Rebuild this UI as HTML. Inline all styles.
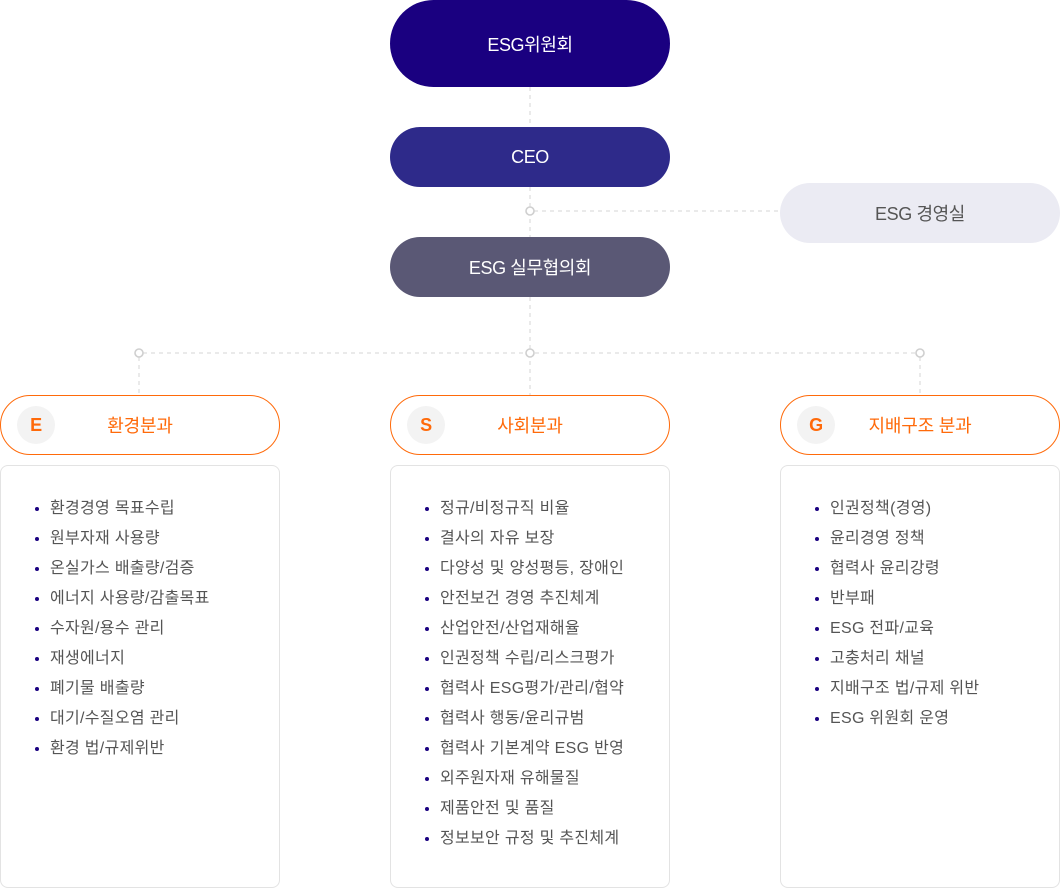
<!DOCTYPE html>
<html><head><meta charset="utf-8"><style>
*{margin:0;padding:0;box-sizing:border-box}
body{width:1060px;height:889px;background:#fff;position:relative;overflow:hidden;font-family:"Liberation Sans","Noto Sans CJK KR",sans-serif}
.pill{position:absolute;display:flex;align-items:center;justify-content:center;color:#fff;font-size:18px;letter-spacing:-0.4px}
.div{position:absolute;top:395px;width:280px;height:60px;border:1px solid #ff6a0a;border-radius:30px;color:#ff6a0a;font-size:18px;display:flex;align-items:center;justify-content:center;letter-spacing:-0.2px}
.badge{position:absolute;left:16px;top:10px;width:38px;height:38px;border-radius:50%;background:#f3f3f3;color:#ff6a0a;font-weight:bold;font-size:18px;display:flex;align-items:center;justify-content:center;font-family:"Liberation Sans",sans-serif}
.box{position:absolute;top:465px;width:280px;height:423px;border:1px solid #e3e3e3;border-radius:8px}
.box ul{list-style:none;position:absolute;left:0;top:31px}
.box li{position:relative;height:30px;line-height:24px;padding-left:49px;font-size:16px;color:#555;letter-spacing:0.3px;white-space:nowrap}
.box li:before{content:"";position:absolute;left:34px;top:10px;width:4px;height:4px;border-radius:50%;background:#1a0080}
</style></head><body>
<svg width="1060" height="889" style="position:absolute;left:0;top:0">
<g stroke="#d4d4d4" stroke-width="1" stroke-dasharray="4,4" fill="none">
<line x1="530" y1="87" x2="530" y2="127"/>
<line x1="530" y1="187" x2="530" y2="237"/>
<line x1="534" y1="211" x2="780" y2="211"/>
<line x1="530" y1="297" x2="530" y2="395"/>
<line x1="143" y1="353" x2="916" y2="353"/>
<line x1="139" y1="357" x2="139" y2="395"/>
<line x1="920" y1="357" x2="920" y2="395"/>
</g>
<g stroke="#cfcfcf" stroke-width="1.6" fill="#fff">
<circle cx="530" cy="211" r="4"/>
<circle cx="139" cy="353" r="4"/>
<circle cx="530" cy="353" r="4"/>
<circle cx="920" cy="353" r="4"/>
</g>
</svg>
<div class="pill" style="left:390px;top:0;width:280px;height:87px;border-radius:44px;background:#1a0080">ESG위원회</div>
<div class="pill" style="left:390px;top:127px;width:280px;height:60px;border-radius:30px;background:#2e2a8a">CEO</div>
<div class="pill" style="left:390px;top:237px;width:280px;height:60px;border-radius:30px;background:#5a5875">ESG 실무협의회</div>
<div class="pill" style="left:780px;top:183px;width:280px;height:60px;border-radius:30px;background:#ebebf3;color:#555">ESG 경영실</div>

<div class="div" style="left:0"><span class="badge">E</span>환경분과</div>
<div class="div" style="left:390px"><span class="badge">S</span>사회분과</div>
<div class="div" style="left:780px"><span class="badge">G</span>지배구조 분과</div>

<div class="box" style="left:0"><ul>
<li>환경경영 목표수립</li><li>원부자재 사용량</li><li>온실가스 배출량/검증</li><li>에너지 사용량/감출목표</li><li>수자원/용수 관리</li><li>재생에너지</li><li>폐기물 배출량</li><li>대기/수질오염 관리</li><li>환경 법/규제위반</li>
</ul></div>
<div class="box" style="left:390px"><ul>
<li>정규/비정규직 비율</li><li>결사의 자유 보장</li><li>다양성 및 양성평등, 장애인</li><li>안전보건 경영 추진체계</li><li>산업안전/산업재해율</li><li>인권정책 수립/리스크평가</li><li>협력사 ESG평가/관리/협약</li><li>협력사 행동/윤리규범</li><li>협력사 기본계약 ESG 반영</li><li>외주원자재 유해물질</li><li>제품안전 및 품질</li><li>정보보안 규정 및 추진체계</li>
</ul></div>
<div class="box" style="left:780px"><ul>
<li>인권정책(경영)</li><li>윤리경영 정책</li><li>협력사 윤리강령</li><li>반부패</li><li>ESG 전파/교육</li><li>고충처리 채널</li><li>지배구조 법/규제 위반</li><li>ESG 위원회 운영</li>
</ul></div>
</body></html>
